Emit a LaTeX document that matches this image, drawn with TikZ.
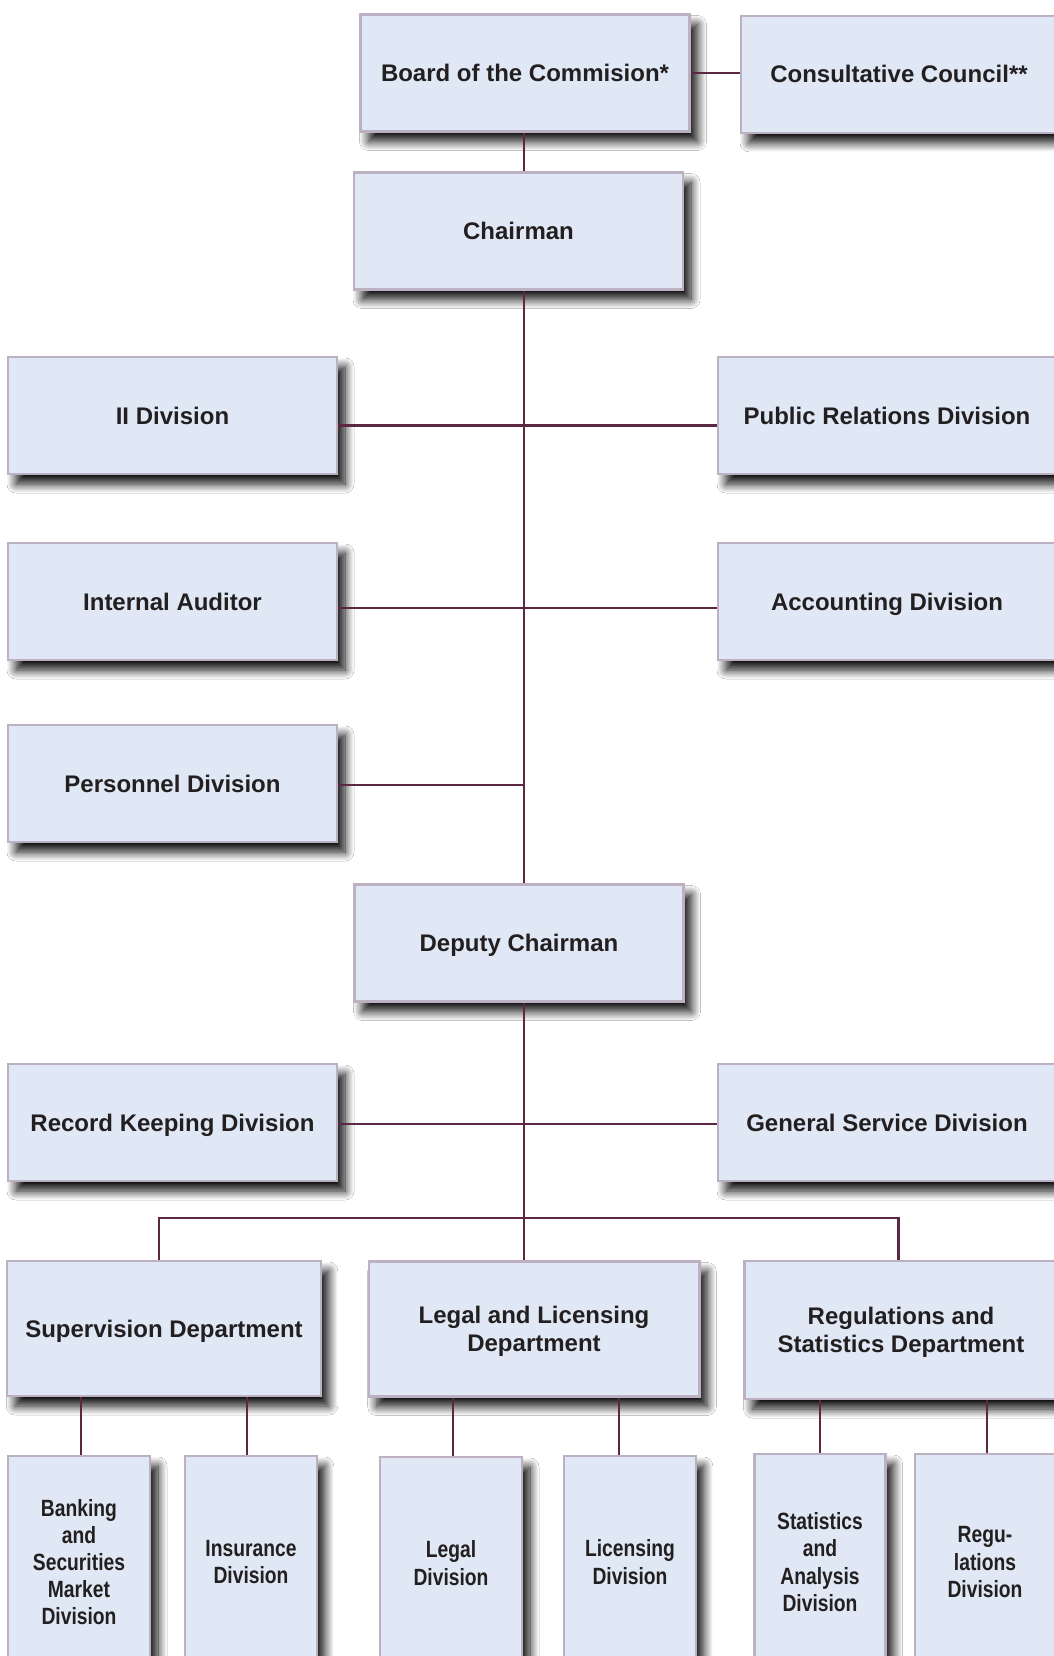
\documentclass[tikz,border=0pt]{standalone}
\usepackage{fontspec}
\setmainfont{Liberation Sans}
\newfontfamily\narrowfont[FakeStretch=0.82]{Liberation Sans}
\usetikzlibrary{shadows.blur}
\definecolor{boxfill}{HTML}{DFE8F4}
\definecolor{boxline}{HTML}{BCB0C2}
\definecolor{orgline}{HTML}{5B2743}
\definecolor{ink}{HTML}{231F20}
\tikzset{
  orgbox/.style={draw=boxline, line width=2.4pt, fill=boxfill, text=ink,
    align=center, inner sep=0pt, text depth=0pt,
    font=\bfseries\fontsize{24}{27.5}\selectfont,
    blur shadow={shadow xshift=8pt, shadow yshift=-10pt,
      shadow blur radius=9pt, shadow opacity=95, shadow blur steps=14}},
  office/.style={orgbox, minimum width=329pt, minimum height=117pt},
  dept/.style={orgbox, minimum height=135pt},
  divbox/.style={orgbox, minimum height=212pt,
    font=\narrowfont\bfseries\fontsize{23.5}{27.2}\selectfont},
  link/.style={draw=orgline, line width=2.6pt}
}
\begin{document}
\begin{tikzpicture}[x=1pt, y=-1pt]
  \useasboundingbox[fill=white] (0,0) rectangle (1054,1656);
  % top of the chart
  \node[office] (board) at (525,73) {Board of the Commision*};
  \node[office, minimum width=316pt] (council) at (899,74.3) {Consultative Council**};
  \node[office] (chair) at (518.5,231) {Chairman};
  % staff divisions
  \node[office] (ii) at (172.5,415.5) {II Division};
  \node[office, minimum width=338pt] (pr) at (887,415.5) {Public Relations Division};
  \node[office] (audit) at (172.5,601.5) {Internal Auditor};
  \node[office, minimum width=338pt] (acc) at (887,601.5) {Accounting Division};
  \node[office] (pers) at (172.5,783.5) {Personnel Division};
  \node[office] (deputy) at (519,943) {Deputy Chairman};
  \node[office] (rec) at (172.5,1122.5) {Record Keeping Division};
  \node[office, minimum width=338pt] (gen) at (887,1122.5) {General Service Division};
  % departments
  \node[dept, minimum width=313.5pt] (sup) at (164,1328.5) {Supervision Department};
  \node[dept, minimum width=330.6pt] (legal) at (534,1329) {Legal and Licensing\\Department};
  \node[dept, minimum width=313pt, minimum height=138pt] (reg) at (901,1330) {Regulations and\\Statistics Department};
  % divisions of the departments
  \node[divbox, minimum width=142pt] (bank) at (79,1562) {Banking\\and\\Securities\\Market\\Division};
  \node[divbox, minimum width=131.5pt] (ins) at (251,1562) {Insurance\\Division};
  \node[divbox, minimum width=142pt] (legdiv) at (451,1563) {Legal\\Division};
  \node[divbox, minimum width=131.5pt] (lic) at (630,1562) {Licensing\\Division};
  \node[divbox, minimum width=131pt, minimum height=216pt] (stat) at (820,1562) {Statistics\\and\\Analysis\\Division};
  \node[divbox, minimum width=140pt, minimum height=216pt] (regdiv) at (985,1562) {Regu-\\lations\\Division};
  % connectors
  \coordinate (spine) at (524,0);
  \coordinate (busl) at (159,1218);
  \coordinate (busr) at (898.5,1218);
  \draw[link] (board.east) -- (board.east -| council.west);
  \draw[link] (spine |- board.south) -- (spine |- chair.north);
  \draw[link] (spine |- chair.south) -- (spine |- deputy.north);
  \draw[link] ([yshift=-10pt]ii.east) -- ([yshift=-10pt]ii.east -| pr.west);
  \draw[link] ([yshift=-6.5pt]audit.east) -- ([yshift=-6.5pt]audit.east -| acc.west);
  \draw[link] ([yshift=-1.5pt]pers.east) -- ([yshift=-1.5pt]pers.east -| spine);
  \draw[link] ([yshift=-1.5pt]rec.east) -- ([yshift=-1.5pt]rec.east -| gen.west);
  \draw[link] (spine |- deputy.south) -- (spine |- legal.north);
  \draw[link] (busl |- sup.north) -- (busl) -- (busr) -- (busr |- reg.north);
  \draw[link] ([xshift=2pt]bank.north) -- ([xshift=2pt]bank.north |- sup.south);
  \draw[link] ([xshift=-4pt]ins.north) -- ([xshift=-4pt]ins.north |- sup.south);
  \draw[link] ([xshift=2pt]legdiv.north) -- ([xshift=2pt]legdiv.north |- legal.south);
  \draw[link] ([xshift=-11pt]lic.north) -- ([xshift=-11pt]lic.north |- legal.south);
  \draw[link] (stat.north) -- (stat.north |- reg.south);
  \draw[link] ([xshift=2pt]regdiv.north) -- ([xshift=2pt]regdiv.north |- reg.south);
\end{tikzpicture}
\end{document}
